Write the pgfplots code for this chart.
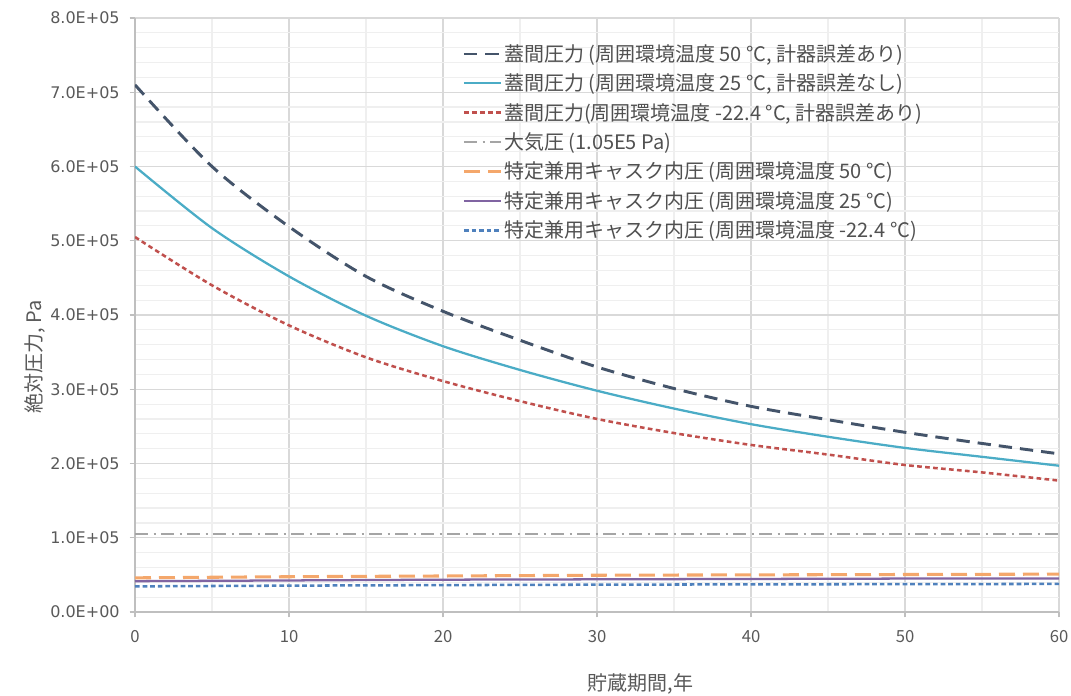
\documentclass[border=0pt]{standalone}
\usepackage{fontspec}
\setmainfont{Noto Sans CJK JP}
\newfontfamily\tickfont{DejaVu Sans}
\usepackage{pgfplots}
\pgfplotsset{compat=1.18}
\usepackage{pgfplotstable}
\definecolor{navyc}{HTML}{44546A}
\definecolor{cyanc}{HTML}{4BACC6}
\definecolor{redc}{HTML}{C0504D}
\definecolor{grayc}{HTML}{A5A5A5}
\definecolor{orangec}{HTML}{F4A76B}
\definecolor{purplec}{HTML}{8064A2}
\definecolor{bluec}{HTML}{4F81BD}
\definecolor{txt}{HTML}{595959}
\definecolor{legtxt}{HTML}{505050}
\definecolor{majgrid}{HTML}{D9D9D9}
\definecolor{mingrid}{HTML}{EFEFEF}
\definecolor{axc}{HTML}{BFBFBF}

\pgfplotstableread{
x    navy    cyan    red
0    710000  600000  505000
5    600000  517000  440000
10   519000  452000  386000
15   452000  399000  343000
20   405000  358000  311000
25   366000  326000  284000
30   330000  298000  260000
35   301000  274000  241000
40   277000  253000  225000
45   259000  236000  212000
50   242000  221000  198000
55   227000  209000  188000
60   213000  197000  177000
}\uppertab

\pgfplotstableread{
x    atm     orange  purple  blue
0    105000  46000   41500   34500
10   105000  47500   42500   35500
20   105000  48500   43500   36200
30   105000  49500   44000   36800
40   105000  50000   44500   37200
50   105000  50500   45000   37500
60   105000  51000   45200   37800
}\lowertab

\begin{document}
\begin{tikzpicture}
\begin{axis}[
  name=ax,
  scale only axis,
  width=693pt, height=445.5pt,
  xmin=0, xmax=60, ymin=0, ymax=800000,
  xtick={0,10,20,30,40,50,60},
  minor x tick num=1,
  ytick={0,100000,200000,300000,400000,500000,600000,700000,800000},
  yticklabels={0.0E+00,1.0E+05,2.0E+05,3.0E+05,4.0E+05,5.0E+05,6.0E+05,7.0E+05,8.0E+05},
  minor y tick num=4,
  scaled y ticks=false,
  /pgf/number format/assume math mode=true,
  grid=both,
  major grid style={draw=majgrid, line width=0.9pt},
  minor grid style={draw=mingrid, line width=0.9pt},
  axis x line*=bottom, axis y line*=left,
  axis line style={draw=axc, line width=0.9pt},
  tick align=outside,
  major tick length=4pt, minor tick length=0pt,
  tick style={draw=axc, line width=0.9pt},
  yticklabel style={font=\tickfont\fontsize{12}{14}\selectfont, text=txt, anchor=east, xshift=-4pt},
  xticklabel style={font=\fontsize{12.5}{14}\selectfont, text=txt, anchor=center, yshift=-14.5pt},
  ylabel={絶対圧力, Pa},
  xlabel={貯蔵期間,年},
  every axis y label/.style={at={(axis description cs:-0.1082,0.429)}, rotate=90, anchor=center, font=\fontsize{15}{17}\selectfont, text=txt},
  every axis x label/.style={at={(axis description cs:0.547,-0.1215)}, anchor=center, font=\fontsize{15}{17}\selectfont, text=txt},
  legend cell align=left,
  legend style={at={(axis description cs:0.354,0.958)}, anchor=north west, draw=none, fill=white, fill opacity=0, text opacity=1,
    font=\fontsize{15}{17}\selectfont, text=legtxt, row sep=5.9pt, inner sep=0pt,
    nodes={inner sep=1pt}},
  legend image code/.code={\draw[#1] (0pt,0pt) -- (28pt,0pt);},
]
\addplot[navyc, line width=2.2pt, dash pattern=on 10pt off 6pt, smooth] table[x=x, y=navy] {\uppertab};
\addlegendentry{蓋間圧力 (周囲環境温度 50 °C, 計器誤差あり)}
\addplot[cyanc, line width=1.7pt, smooth] table[x=x, y=cyan] {\uppertab};
\addlegendentry{蓋間圧力 (周囲環境温度 25 °C, 計器誤差なし)}
\addplot[redc, line width=1.9pt, dash pattern=on 3.5pt off 2.5pt, smooth] table[x=x, y=red] {\uppertab};
\addlegendentry{蓋間圧力(周囲環境温度 -22.4 °C, 計器誤差あり)}
\addplot[grayc, line width=1.9pt, dash pattern=on 10pt off 4pt on 1.5pt off 4pt] table[x=x, y=atm] {\lowertab};
\addlegendentry{大気圧 (1.05E5 Pa)}
\addplot[orangec, line width=2.3pt, dash pattern=on 12pt off 6pt, smooth] table[x=x, y=orange] {\lowertab};
\addlegendentry{特定兼用キャスク内圧 (周囲環境温度 50 °C)}
\addplot[purplec, line width=1.7pt, smooth] table[x=x, y=purple] {\lowertab};
\addlegendentry{特定兼用キャスク内圧 (周囲環境温度 25 °C)}
\addplot[bluec, line width=1.9pt, dash pattern=on 3.5pt off 2.2pt, smooth] table[x=x, y=blue] {\lowertab};
\addlegendentry{特定兼用キャスク内圧 (周囲環境温度 -22.4 °C)}
\end{axis}
\pgfresetboundingbox
\path[use as bounding box] ([shift={(-101.25pt,-63pt)}]ax.south west) rectangle ([shift={(9pt,13.5pt)}]ax.north east);
\end{tikzpicture}
\end{document}
